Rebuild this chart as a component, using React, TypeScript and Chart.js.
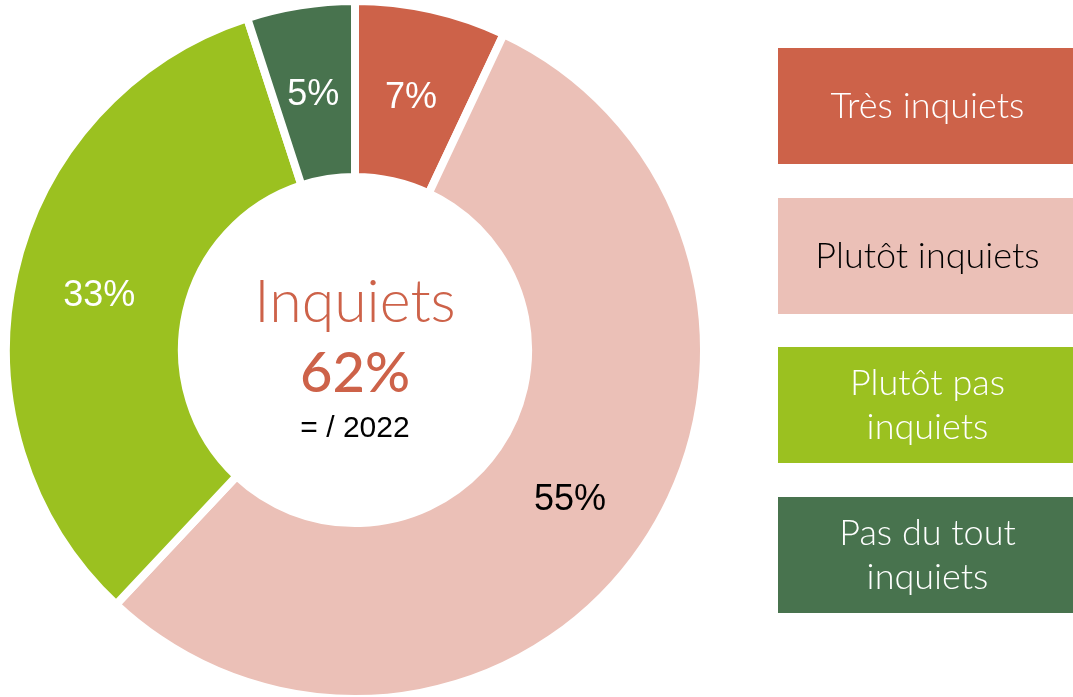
import React, { useEffect, useRef } from "react";
import { Chart, registerables } from "chart.js";

Chart.register(...registerables);

const categories = ["Très inquiets", "Plutôt inquiets", "Plutôt pas inquiets", "Pas du tout inquiets"];
const legendLines = [["Très inquiets"], ["Plutôt inquiets"], ["Plutôt pas", "inquiets"], ["Pas du tout", "inquiets"]];
const values = [7, 55, 33, 5];
const colors = ["#CD6249", "#EBC0B7", "#9BC120", "#48734E"];
const labelColors = ["#FFFFFF", "#000000", "#FFFFFF", "#FFFFFF"];
const centerTitle = "Inquiets";
const centerValue = "62%";
const centerNote = "= / 2022";

const AVENIR = "Lato, 'Noto Sans', sans-serif";
const ARIAL = "'Liberation Sans', Arial, sans-serif";

const segmentLabels = {
  id: "segmentLabels",
  afterDatasetsDraw(chart: any) {
    const ctx = chart.ctx;
    const meta = chart.getDatasetMeta(0);
    ctx.save();
    ctx.font = `36px ${ARIAL}`;
    ctx.textAlign = "center";
    ctx.textBaseline = "middle";
    meta.data.forEach((arc: any, i: number) => {
      const p = arc.getCenterPoint();
      ctx.fillStyle = labelColors[i];
      ctx.fillText(values[i] + "%", p.x - 1, p.y + 3);
    });
    ctx.restore();
  },
};

const centerText = {
  id: "centerText",
  afterDraw(chart: any) {
    const ctx = chart.ctx;
    const meta = chart.getDatasetMeta(0);
    const arc = meta.data[0];
    const cx = arc.x;
    const cy = arc.y;
    ctx.save();
    ctx.textAlign = "center";
    ctx.textBaseline = "alphabetic";
    ctx.fillStyle = "#CD6249";
    ctx.font = `300 59px ${AVENIR}`;
    ctx.fillText(centerTitle, cx, cy - 28);
    ctx.font = `500 56px ${AVENIR}`;
    ctx.fillText(centerValue, cx, cy + 42);
    ctx.fillStyle = "#000000";
    ctx.font = `30px ${ARIAL}`;
    ctx.fillText(centerNote, cx, cy + 87);
    ctx.restore();
  },
};

const boxLegend = {
  id: "boxLegend",
  afterDraw(chart: any) {
    const ctx = chart.ctx;
    const x0 = 778;
    const w = 295;
    const h = 116;
    const tops = [48, 198, 347, 497];
    ctx.save();
    ctx.textAlign = "center";
    ctx.textBaseline = "middle";
    ctx.font = `300 36px ${AVENIR}`;
    categories.forEach((_c, i) => {
      ctx.fillStyle = colors[i];
      ctx.fillRect(x0, tops[i], w, h);
      ctx.fillStyle = labelColors[i];
      const lines = legendLines[i];
      const lh = 44;
      const startY = tops[i] + h / 2 - ((lines.length - 1) * lh) / 2;
      lines.forEach((ln, j) => ctx.fillText(ln, x0 + w / 2 + 2, startY + j * lh));
    });
    ctx.restore();
  },
};

export default function App() {
  const ref = useRef<HTMLCanvasElement>(null);
  useEffect(() => {
    if (!ref.current) return;
    const chart = new Chart(ref.current, {
      type: "doughnut",
      data: {
        labels: categories,
        datasets: [
          {
            data: values,
            backgroundColor: colors,
            borderColor: "#FFFFFF",
            borderWidth: 8,
            borderAlign: "center",
            radius: 349,
          } as any,
        ],
      },
      options: {
        animation: false,
        responsive: false,
        cutout: "49.6%",
        layout: { padding: { left: 10, right: 373, top: 3, bottom: 0 } },
        plugins: { legend: { display: false }, tooltip: { enabled: false } },
      },
      plugins: [segmentLabels, centerText, boxLegend],
    });
    return () => chart.destroy();
  }, []);
  return (
    <div style={{ position: "fixed", left: 0, top: 0, width: 1073, height: 697, background: "#fff" }}>
      <canvas ref={ref} width={1073} height={697} style={{ width: 1073, height: 697 }} />
    </div>
  );
}
